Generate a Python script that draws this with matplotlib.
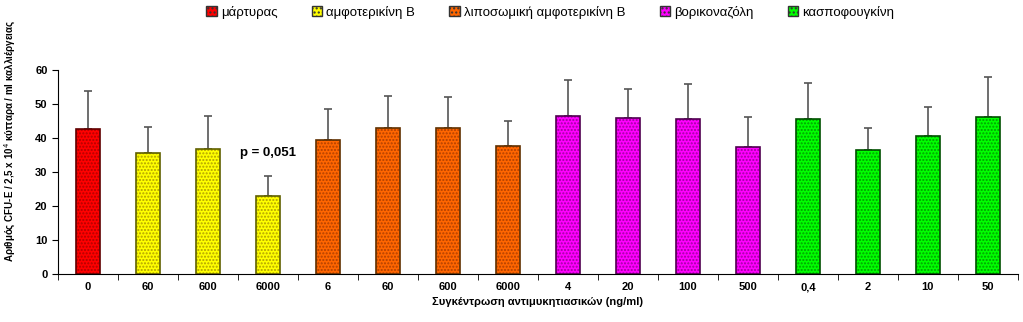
import numpy as np
import matplotlib
matplotlib.use("Agg")
import matplotlib.pyplot as plt
from matplotlib.patches import Patch

plt.rcParams['font.family'] = ['Liberation Sans', 'DejaVu Sans']

# δεδομένα
labels = ['0', '60', '600', '6000', '6', '60', '600', '6000',
          '4', '20', '100', '500', '0,4', '2', '10', '50']
values = [42.5, 35.5, 36.7, 22.9, 39.4, 42.9, 42.9, 37.7,
          46.3, 45.9, 45.5, 37.3, 45.5, 36.5, 40.7, 46.1]
upper = [53.9, 43.1, 46.4, 28.7, 48.4, 52.2, 51.9, 45.0,
         56.9, 54.3, 55.9, 46.1, 56.2, 42.9, 49.1, 58.0]
groups = [0, 1, 1, 1, 2, 2, 2, 2, 3, 3, 3, 3, 4, 4, 4, 4]
group_names = ['μάρτυρας', 'αμφοτερικίνη Β', 'λιποσωμική αμφοτερικίνη Β',
               'βορικοναζόλη', 'κασποφουγκίνη']

face = ['#ff0000', '#ffff00', '#ff6600', '#ff00ff', '#00ff00']
dots = ['#b00000', '#b0a000', '#b04000', '#a000a0', '#00a000']
edge = ['#600000', '#606000', '#603000', '#500050', '#005000']

fig = plt.figure(figsize=(10.23, 3.22), dpi=100)
ax = fig.add_axes([0.0567, 0.149, 0.9383, 0.634])

x = np.arange(len(values))
fc = [face[g] for g in groups]
dc = [dots[g] for g in groups]
ec = [edge[g] for g in groups]
err = np.array(upper) - np.array(values)

ax.errorbar(x, values, yerr=[np.zeros(len(x)), err], fmt='none',
            ecolor='#555555', elinewidth=1.2, capsize=3, capthick=1.2, zorder=1)
ax.bar(x, values, width=0.4, color=fc, edgecolor=dc, hatch='.....',
       linewidth=0, zorder=2)
ax.bar(x, values, width=0.4, fill=False, edgecolor=ec, linewidth=1.2, zorder=3)

ax.set_xlim(-0.5, len(x) - 0.5)
ax.set_ylim(0, 60)
ax.set_yticks([0, 10, 20, 30, 40, 50, 60])
ax.set_xticks(x)
ax.set_xticklabels(labels, fontsize=8, fontweight='bold')
ax.set_xticks(np.arange(-0.5, len(x)), minor=True)
ax.tick_params(axis='x', which='major', length=0, pad=6)
ax.tick_params(axis='x', which='minor', length=4, direction='out')
ax.tick_params(axis='y', length=4, direction='out', labelsize=8)
for t in ax.get_yticklabels():
    t.set_fontweight('bold')
ax.spines['top'].set_visible(False)
ax.spines['right'].set_visible(False)

ax.set_xlabel('Συγκέντρωση αντιμυκητιασικών (ng/ml)', fontsize=8,
              fontweight='bold', labelpad=3)
ax.set_ylabel('Αριθμός CFU-E / 2,5 x 10$^{4}$ κύτταρα / ml καλλιέργειας',
              fontsize=7, fontweight='bold')
ax.yaxis.set_label_coords(-0.042, 0.65)

ax.text(3, 35.5, 'p = 0,051', ha='center', va='center', fontsize=9.5,
        fontweight='bold')

handles = [Patch(facecolor=face[i], edgecolor='#333333', hatch='....')
           for i in range(5)]
fig.legend(handles, group_names, loc='center', bbox_to_anchor=(0.538, 0.962),
           ncol=5, frameon=False, fontsize=9.5, handlelength=0.8,
           handleheight=0.8, handletextpad=0.3, columnspacing=2.6)

fig.savefig('out.png', dpi=100)
